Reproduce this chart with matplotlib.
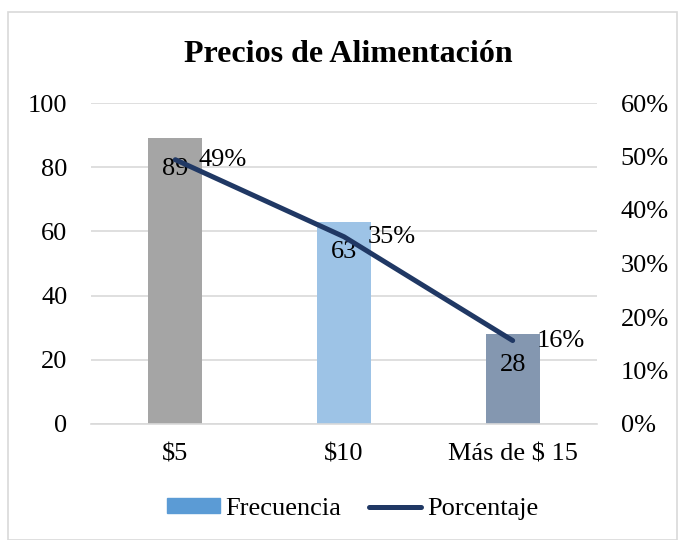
import matplotlib
matplotlib.use("Agg")
import matplotlib.pyplot as plt
from matplotlib.patches import Patch, Rectangle
from matplotlib.lines import Line2D

categories = ["$5", "$10", "Más de $ 15"]
frecuencia = [89, 63, 28]
porcentaje = [0.494, 0.35, 0.156]
pct_labels = ["49%", "35%", "16%"]
bar_colors = ["#A5A5A5", "#9DC3E6", "#8497B0"]
line_color = "#203864"

plt.rcParams['font.family'] = ['Liberation Serif', 'DejaVu Serif']
FS = 19

fig = plt.figure(figsize=(6.78, 5.40), dpi=100)
fig.patches.append(Rectangle((7.5/678, 0), 1 - 7.5/678 - 0.002, 1 - 12/540, transform=fig.transFigure,
                             fill=False, edgecolor="#D9D9D9", linewidth=1.2))

ax = fig.add_axes([91/678, 1 - 424/540, (597 - 91)/678, (424 - 103)/540])
x = list(range(len(categories)))
ax.bar(x, frecuencia, width=0.32, color=bar_colors, zorder=2)
ax.set_xlim(-0.5, 2.5)
ax.set_ylim(0, 100)
ax.set_yticks([0, 20, 40, 60, 80, 100])
ax.set_xticks(x)
ax.set_xticklabels(categories)
ax.grid(axis='y', color="#D9D9D9", linewidth=1.2, zorder=0)
ax.set_axisbelow(True)
for s in ["top", "right", "left"]:
    ax.spines[s].set_visible(False)
ax.spines["bottom"].set_color("#D9D9D9")
ax.spines["bottom"].set_linewidth(1.2)
ax.tick_params(axis='y', length=0, labelsize=FS, pad=17)
ax.tick_params(axis='x', length=0, labelsize=FS, pad=14)

for xi, v in zip(x, frecuencia):
    ax.annotate(str(v), (xi, v), xytext=(0, -22), textcoords='offset points',
                ha='center', va='center', fontsize=FS, zorder=5)

ax2 = ax.twinx()
ax2.plot(x, porcentaje, color=line_color, linewidth=3.6, solid_capstyle='round', zorder=4)
ax2.set_ylim(0, 0.6)
ticks2 = [0, 0.1, 0.2, 0.3, 0.4, 0.5, 0.6]
ax2.set_yticks(ticks2)
ax2.set_yticklabels([f"{int(round(t*100))}%" for t in ticks2])
for s in ["top", "right", "left", "bottom"]:
    ax2.spines[s].set_visible(False)
ax2.tick_params(axis='y', length=0, labelsize=FS, pad=17)
for xi, p, lab in zip(x, porcentaje, pct_labels):
    ax2.annotate(lab, (xi, p), xytext=(17, 0), textcoords='offset points',
                 ha='left', va='center', fontsize=FS)

fig.text(348.5/678, 1 - 62/540, "Precios de Alimentación", ha='center', va='baseline',
         fontsize=23, fontweight='bold')

handles = [Patch(color="#5B9BD5"), Line2D([0], [0], color=line_color, linewidth=3.6, solid_capstyle='round')]
fig.legend(handles, ["Frecuencia", "Porcentaje"], loc='center', bbox_to_anchor=(352.5/678, 1 - 509/540),
           ncol=2, frameon=False, fontsize=FS, handlelength=2.0, handleheight=0.5,
           handletextpad=0.2, columnspacing=1.05)

fig.savefig("out.png", dpi=100)
